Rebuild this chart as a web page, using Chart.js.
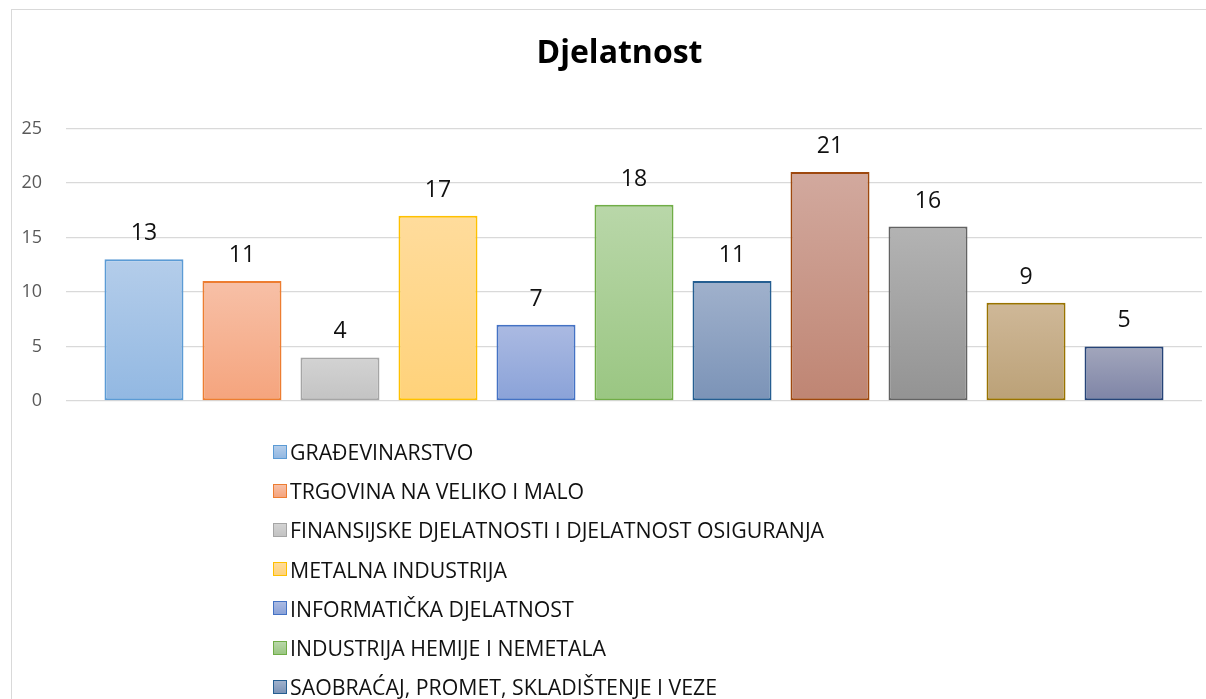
<!DOCTYPE html>
<html>
<head>
<meta charset="utf-8">
<script src="https://cdn.jsdelivr.net/npm/chart.js@4/dist/chart.umd.min.js"></script>
<style>
  html, body { margin: 0; padding: 0; background: #fff; overflow: hidden; }
  body { width: 1206px; height: 699px; position: relative; font-family: "Open Sans", sans-serif; }
  .frame { position: absolute; left: 11px; top: 9px; width: 1300px; height: 800px; border: 1px solid #d9d9d9; box-sizing: border-box; }
  .wrap { position: absolute; left: 11px; top: 9px; width: 1217px; height: 430px; }
  #legend { position: absolute; left: 273px; top: 432px; }
  #legend .item { height: 39.2px; display: flex; align-items: center; font-size: 21.3px; color: #111; white-space: nowrap; }
  #legend .box { width: 12px; height: 12px; border: 1.5px solid; margin-right: 3px; }
</style>
</head>
<body>
<div class="frame"></div>
<div class="wrap"><canvas id="chart"></canvas></div>
<div id="legend"></div>
<script>
// Data (the last four legend names are cut off there)
const names = [
  "GRAĐEVINARSTVO",
  "TRGOVINA NA VELIKO I MALO",
  "FINANSIJSKE DJELATNOSTI I DJELATNOST OSIGURANJA",
  "METALNA INDUSTRIJA",
  "INFORMATIČKA DJELATNOST",
  "INDUSTRIJA HEMIJE I NEMETALA",
  "SAOBRAĆAJ, PROMET, SKLADIŠTENJE I VEZE",
  "", "", "", "",
];
const values = [13, 11, 4, 17, 7, 18, 11, 21, 16, 9, 5];
const yTicks = [0, 5, 10, 15, 20, 25];

// Palette: outline, gradient top, gradient bottom
const edge = ["#5B9BD5", "#ED7D31", "#A5A5A5", "#FFC000", "#4472C4", "#70AD47", "#255E91", "#9E480E", "#636363", "#997300", "#264478"];
const topC = ["#B4CDEA", "#F7C0A7", "#D3D3D3", "#FFDC9C", "#ABBAE2", "#B9D7A9", "#A0B1CC", "#D2A99E", "#B3B3B3", "#CFB898", "#A2A6BC"];
const botC = ["#92B8E2", "#F5A47D", "#C3C3C3", "#FFD27A", "#8AA2D8", "#9AC682", "#7B93B7", "#BF8573", "#939393", "#BBA177", "#7E84A6"];

function barFill(ctx) {
  const i = ctx.datasetIndex;
  const chart = ctx.chart;
  if (!chart.chartArea || !chart.scales.y) return topC[i];
  const y = chart.scales.y;
  const g = chart.ctx.createLinearGradient(0, y.getPixelForValue(values[i]), 0, y.getPixelForValue(0));
  g.addColorStop(0, topC[i]);
  g.addColorStop(1, botC[i]);
  return g;
}

// value labels above each bar
const valueLabels = {
  id: "valueLabels",
  afterDatasetsDraw(chart) {
    const c = chart.ctx;
    c.save();
    c.font = "23px 'Open Sans', sans-serif";
    c.fillStyle = "#111";
    c.textAlign = "center";
    c.textBaseline = "alphabetic";
    chart.data.datasets.forEach((ds, i) => {
      const bar = chart.getDatasetMeta(i).data[0];
      if (!bar) return;
      c.fillText(String(ds.data[0]), bar.x, bar.y - 19);
    });
    c.restore();
  },
};

const chart = new Chart(document.getElementById("chart"), {
  type: "bar",
  data: {
    labels: [""],
    datasets: names.map((n, i) => ({
      label: n,
      data: [values[i]],
      backgroundColor: barFill,
      borderColor: edge[i],
      borderWidth: 2,
      borderSkipped: false,
      categoryPercentage: 0.949,
      barPercentage: 0.806,
    })),
  },
  options: {
    responsive: true,
    maintainAspectRatio: false,
    animation: false,
    layout: { padding: { left: 0, right: 0, top: 0, bottom: 38 } },
    scales: {
      x: { display: false },
      y: {
        min: 0,
        max: 25,
        afterBuildTicks: (s) => { s.ticks = yTicks.map((v) => ({ value: v })); },
        afterFit: (s) => { s.width = 55; },
        border: { display: false },
        grid: { color: "#d9d9d9", lineWidth: 1.3, drawTicks: false },
        ticks: { padding: 24, color: "#595959", font: { family: "'Open Sans', sans-serif", size: 18 } },
      },
      // blank right-hand strip so the title stays centred on the whole frame
      spacer: {
        type: "linear",
        position: "right",
        afterFit: (s) => { s.width = 26; },
        grid: { display: false },
        border: { display: false },
        ticks: { display: false },
      },
    },
    plugins: {
      legend: { display: false },
      tooltip: { enabled: false },
      title: {
        display: true,
        text: "Djelatnost",
        color: "#000",
        font: { family: "'Open Sans', sans-serif", size: 32, weight: "bold" },
        padding: { top: 26, bottom: 55 },
      },
    },
  },
  plugins: [valueLabels],
});

// HTML legend, one entry per row
const legend = document.getElementById("legend");
names.forEach((n, i) => {
  const row = document.createElement("div");
  row.className = "item";
  const box = document.createElement("span");
  box.className = "box";
  box.style.borderColor = edge[i];
  box.style.background = `linear-gradient(${topC[i]}, ${botC[i]})`;
  const txt = document.createElement("span");
  txt.textContent = n;
  row.append(box, txt);
  legend.appendChild(row);
});
</script>
</body>
</html>
